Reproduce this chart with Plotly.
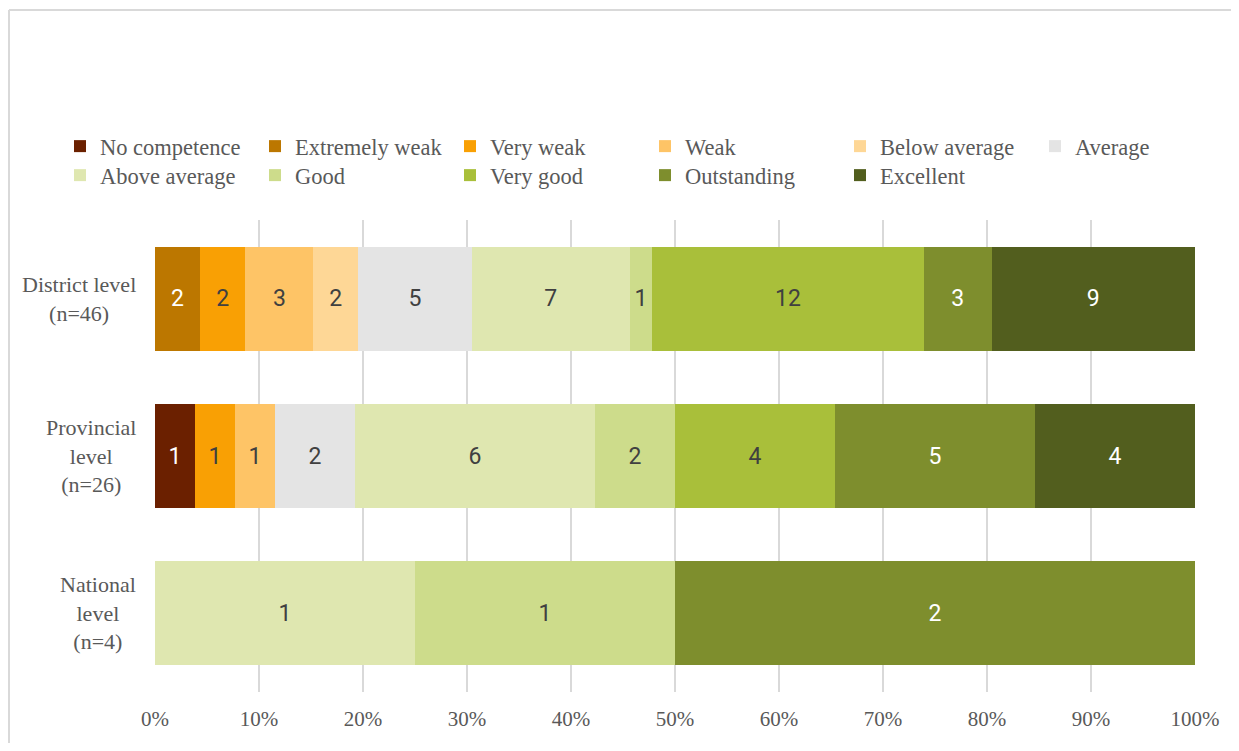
import plotly.graph_objects as go

levels = ["District level", "Provincial level", "National level"]
level_labels = ["District level<br>(n=46)", "Provincial<br>level<br>(n=26)", "National<br>level<br>(n=4)"]
ratings = ["No competence", "Extremely weak", "Very weak", "Weak", "Below average", "Average",
           "Above average", "Good", "Very good", "Outstanding", "Excellent"]
colors = ["#6B2000", "#BC7700", "#F9A004", "#FEC466", "#FED796", "#E4E4E4",
          "#DFE7B0", "#CDDC8B", "#A9BF3A", "#7E8E2D", "#525E1E"]
text_colors = ["#FFFFFF", "#FFFFFF", "#404040", "#404040", "#404040", "#404040",
               "#404040", "#404040", "#404040", "#FFFFFF", "#FFFFFF"]

district = [0, 2, 2, 3, 2, 5, 7, 1, 12, 3, 9]
provincial = [1, 0, 1, 1, 0, 2, 6, 2, 4, 5, 4]
national = [0, 0, 0, 0, 0, 0, 1, 1, 0, 2, 0]
counts = [district, provincial, national]

# page body adds an 8px margin on each side; keep the figure inside the window
W, H = 1223, 735
L, R, T, B = 147, 36, 212, 51
pw, ph = W - L - R, H - T - B

fig = go.Figure()
for i, r in enumerate(ratings):
    vals = [c[i] if c[i] > 0 else None for c in counts]
    txt = [str(c[i]) if c[i] > 0 else "" for c in counts]
    fig.add_trace(go.Bar(
        name=r, y=levels, x=vals, orientation="h",
        marker=dict(color=colors[i], line=dict(width=0)),
        text=txt, textposition="inside", insidetextanchor="middle", textangle=0,
        insidetextfont=dict(family="Roboto", size=23, color=text_colors[i]),
        hoverinfo="name+x",
        legend="legend" if i < 6 else "legend2",
    ))

for lab, lv in zip(level_labels, levels):
    fig.add_annotation(x=(130 - L) / pw, xref="paper", y=lv, yref="y",
                       text=lab, showarrow=False, xanchor="right", yanchor="middle",
                       align="center",
                       font=dict(family="Liberation Serif", size=22, color="#595959"))

# outer chart border (top and left edges visible)
x_left = (1 - L) / pw
y_top = 1 + (T - 2) / ph
fig.add_shape(type="line", xref="paper", yref="paper",
              x0=x_left, x1=(W + 5 - L) / pw, y0=y_top, y1=y_top,
              line=dict(color="#D9D9D9", width=2), layer="below")
fig.add_shape(type="line", xref="paper", yref="paper",
              x0=x_left, x1=x_left, y0=y_top, y1=-(B + 5) / ph,
              line=dict(color="#D9D9D9", width=2), layer="below")

leg_common = dict(orientation="h", xanchor="left", yanchor="top",
                  entrywidth=150, entrywidthmode="pixels",
                  font=dict(family="Liberation Serif", size=22.5, color="#595959"),
                  traceorder="normal", itemclick=False, bgcolor="rgba(0,0,0,0)")

fig.update_layout(
    width=W, height=H,
    margin=dict(l=L, r=R, t=T, b=B, autoexpand=False),
    barmode="stack", barnorm="percent", bargap=0.34,
    plot_bgcolor="white", paper_bgcolor="white",
    uniformtext=dict(minsize=23, mode="show"),
    showlegend=True,
    legend=dict(x=(52 - L) / pw, y=1 + (T - 117) / ph, **leg_common),
    legend2=dict(x=(52 - L) / pw, y=1 + (T - 146) / ph, **leg_common),
    xaxis=dict(range=[0, 100], dtick=10, ticksuffix="%", showgrid=True,
               gridcolor="#D9D9D9", gridwidth=2, zeroline=False, showline=False,
               tickfont=dict(family="Liberation Serif", size=21, color="#595959"),
               ticks="", ticklabelstandoff=12),
    yaxis=dict(categoryorder="array", categoryarray=levels[::-1],
               showticklabels=False, showgrid=False, zeroline=False, ticks=""),
)

fig.write_html("out.html")
